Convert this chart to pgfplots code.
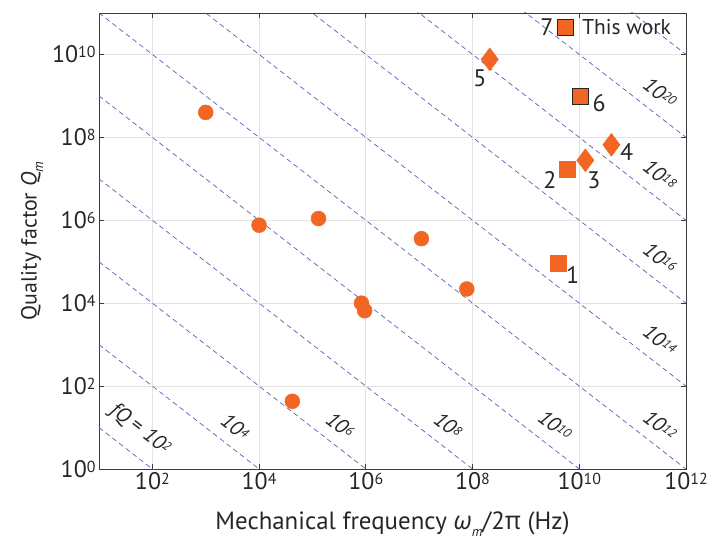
\documentclass[border=0pt]{standalone}
\usepackage{fontspec}
\setmainfont{PT Sans}
\newfontfamily\grkfont{Open Sans}
\usepackage{pgfplots}
\usepackage{pgfplotstable}
\pgfplotsset{compat=1.18}

\definecolor{marker}{HTML}{F26522}
\definecolor{fqline}{HTML}{5262B8}
\definecolor{gridgray}{HTML}{E3E3E3}
\definecolor{framegray}{HTML}{3A3A3A}

% power-of-ten tick labels in the text font
\newcommand{\pw}[1]{10\raisebox{0.22em}{\fontsize{16}{16}\selectfont #1}}
% labels of the constant-fQ lines
\newcommand{\fqp}[1]{\textit{10}\raisebox{0.2em}{\fontsize{13}{13}\selectfont\textit{#1}}}
\newcommand{\sub}[1]{\raisebox{-0.3em}{\fontsize{14}{14}\selectfont\itshape #1}}

% earlier mechanical resonators
\pgfplotstableread{
f Q
1e3 4e8
1e4 7.6e5
1.3e5 1.1e6
1.1e7 3.6e5
7.8e7 2.2e4
8.3e5 1e4
9.5e5 6.6e3
4.2e4 43
}\circles
% square markers without outline (1, 2)
\pgfplotstableread{
f Q
4e9 9.4e4
5.9e9 1.7e7
}\squares
% square markers with outline (6, 7)
\pgfplotstableread{
f Q
1.05e10 9.6e8
5.6e9 4.6e10
}\squaresedged
% diamond markers (3, 4, 5)
\pgfplotstableread{
f Q
2.1e8 7.6e9
1.3e10 2.8e7
4e10 6.6e7
}\diamonds

\begin{document}
\begin{tikzpicture}
\begin{axis}[
  name=ax,
  scale only axis, width=587bp, height=456bp,
  xmode=log, ymode=log,
  xmin=1e1, xmax=1e12, ymin=1, ymax=1e11,
  xtick={1e2,1e4,1e6,1e8,1e10,1e12},
  xticklabels={\pw{2},\pw{4},\pw{6},\pw{8},\pw{10},\pw{12}},
  ytick={1,1e2,1e4,1e6,1e8,1e10},
  yticklabels={\pw{0},\pw{2},\pw{4},\pw{6},\pw{8},\pw{10}},
  xminorticks=false, yminorticks=false,
  grid=major, major grid style={gridgray, line width=0.8bp},
  axis line style={framegray, line width=0.9bp},
  tick style={framegray, line width=0.8bp}, major tick length=5bp,
  tick align=inside,
  ticklabel style={font=\fontsize{24}{28}\selectfont, text=black!85},
  xlabel style={font=\fontsize{25}{29}\selectfont, text=black!85},
  ylabel style={font=\fontsize{22}{26}\selectfont, text=black!85},
  xlabel={Mechanical frequency {\grkfont\itshape ω}\sub{m}/2{\grkfont π} (Hz)},
  ylabel={Quality factor \textit{Q}\sub{m}},
  xlabel shift=15bp, ylabel shift=2bp,
  clip=true,
]
% lines of constant f*Q = 10^2 ... 10^22
\pgfplotsset{fq/.style={fqline, line width=0.7bp, dash pattern=on 5bp off 3.5bp, forget plot}}
\addplot[fq] coordinates {(1e1,1e1) (1e12,1e-10)};
\addplot[fq] coordinates {(1e1,1e3) (1e12,1e-8)};
\addplot[fq] coordinates {(1e1,1e5) (1e12,1e-6)};
\addplot[fq] coordinates {(1e1,1e7) (1e12,1e-4)};
\addplot[fq] coordinates {(1e1,1e9) (1e12,1e-2)};
\addplot[fq] coordinates {(1e1,1e11) (1e12,1e0)};
\addplot[fq] coordinates {(1e1,1e13) (1e12,1e2)};
\addplot[fq] coordinates {(1e1,1e15) (1e12,1e4)};
\addplot[fq] coordinates {(1e1,1e17) (1e12,1e6)};
\addplot[fq] coordinates {(1e1,1e19) (1e12,1e8)};
\addplot[fq] coordinates {(1e1,1e21) (1e12,1e10)};

\addplot[only marks, mark=*, mark size=7.5bp, mark options={draw=marker, fill=marker}] table {\circles};
\addplot[only marks, mark=square*, mark size=8bp, mark options={draw=marker, fill=marker}] table {\squares};
\addplot[only marks, mark=square*, mark size=8bp, mark options={draw=black!85, line width=0.8bp, fill=marker}] table {\squaresedged};
\addplot[only marks, mark=diamond*, mark size=11.5bp, mark options={draw=marker, fill=marker}] table {\diamonds};

% line labels
\begin{scope}[every node/.style={rotate=-37.8, font=\fontsize{21}{21}\selectfont, text=black!85, inner sep=0pt}]
\node at (rel axis cs:0.070,0.086) {\textit{fQ} = \fqp{2}};
\node at (rel axis cs:0.232,0.092) {\fqp{4}};
\node at (rel axis cs:0.411,0.096) {\fqp{6}};
\node at (rel axis cs:0.595,0.096) {\fqp{8}};
\node at (rel axis cs:0.777,0.096) {\fqp{10}};
\node at (rel axis cs:0.956,0.096) {\fqp{12}};
\node at (rel axis cs:0.956,0.283) {\fqp{14}};
\node at (rel axis cs:0.956,0.463) {\fqp{16}};
\node at (rel axis cs:0.956,0.645) {\fqp{18}};
\node at (rel axis cs:0.956,0.825) {\fqp{20}};
\end{scope}

% point labels
\begin{scope}[every node/.style={font=\fontsize{24}{24}\selectfont, text=black!85, inner sep=0pt}]
\node at (rel axis cs:0.807,0.425) {1};
\node at (rel axis cs:0.768,0.634) {2};
\node at (rel axis cs:0.843,0.634) {3};
\node at (rel axis cs:0.899,0.695) {4};
\node at (rel axis cs:0.649,0.857) {5};
\node at (rel axis cs:0.852,0.803) {6};
\node at (rel axis cs:0.763,0.969) {7};
\node[anchor=west, font=\fontsize{21.5}{21.5}\selectfont] at (rel axis cs:0.823,0.969) {This work};
\end{scope}
\end{axis}
\path ([shift={(-99bp,-74bp)}]ax.south west) rectangle ([shift={(28bp,13bp)}]ax.north east);
\end{tikzpicture}
\end{document}
